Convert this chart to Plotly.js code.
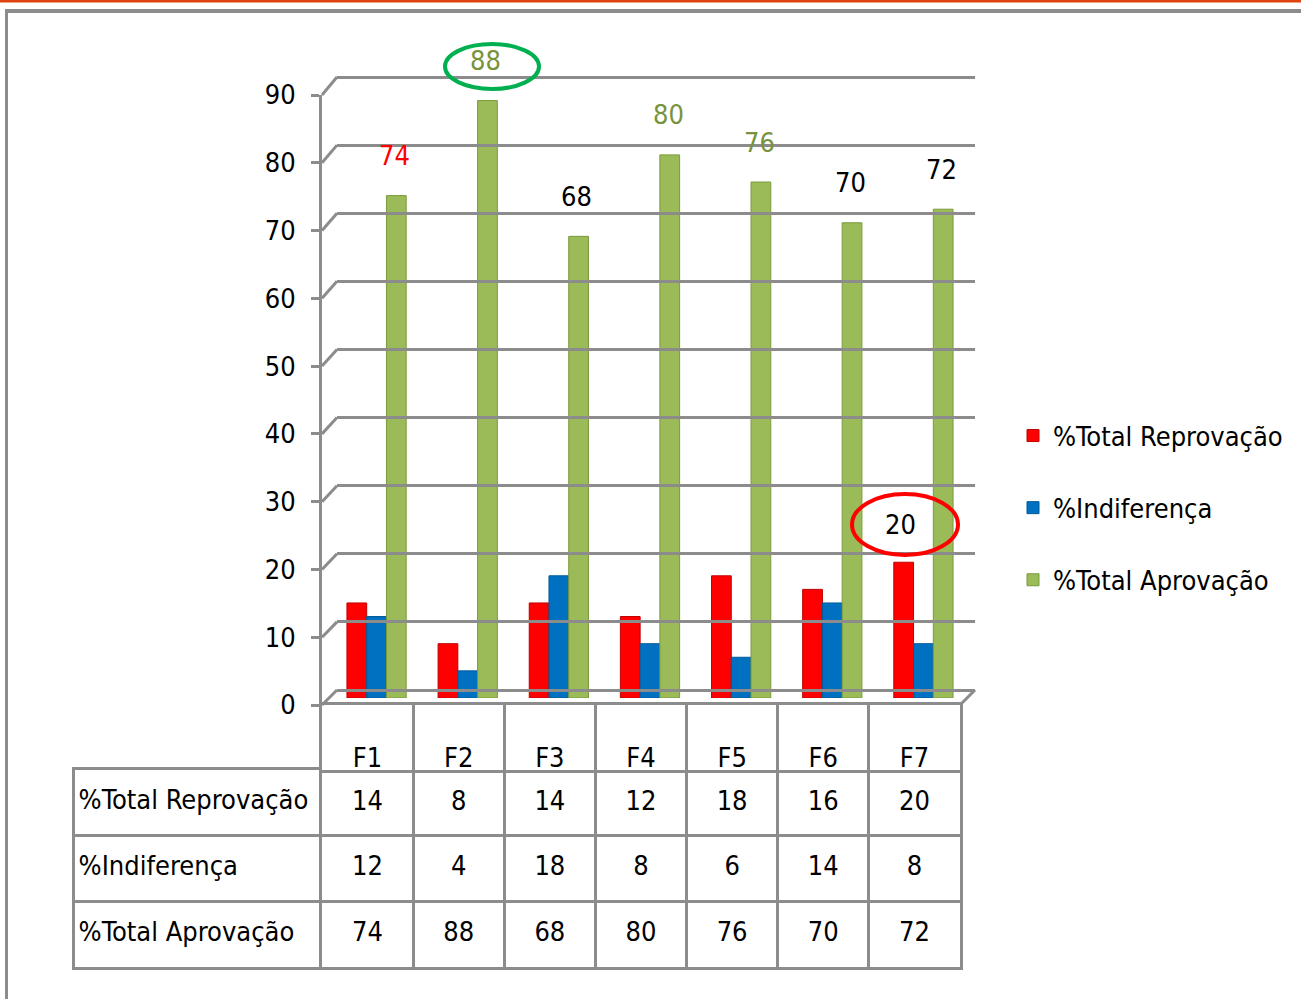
<!DOCTYPE html>
<html>
<head>
<meta charset="utf-8">
<script src="https://cdn.plot.ly/plotly-3.0.1.min.js"></script>
<style>html,body{margin:0;padding:0;background:#fff;overflow:hidden;}#chart{width:1301px;height:999px;}</style>
</head>
<body>
<div id="chart"></div>
<script>
// ---- data ----
const categories = ['F1', 'F2', 'F3', 'F4', 'F5', 'F6', 'F7'];
const seriesNames = ['%Total Reprovação', '%Indiferença', '%Total Aprovação'];
const reprovacao = [14, 8, 14, 12, 18, 16, 20];
const indiferenca = [12, 4, 18, 8, 6, 14, 8];
const aprovacao = [74, 88, 68, 80, 76, 70, 72];
const yTicks = [0, 10, 20, 30, 40, 50, 60, 70, 80, 90];

// ---- style ----
const W = 1301, H = 999;
const px = x => x / W;
const py = y => 1 - y / H;
const FONT = 'DejaVu Sans Condensed, Liberation Sans Narrow, sans-serif';
const FS = 27;
const colors = ['#FF0000', '#0070C0', '#9BBB59'];
const lineColors = ['#C00000', '#005A9A', '#7A9A3A'];
const gray = '#8C8C8C';
const aprLabelColors = ['#FF0000', '#77933C', '#000000', '#77933C', '#77933C', '#000000', '#000000'];

const seriesVals = [reprovacao, indiferenca, aprovacao];
const traces = seriesVals.map((vals, i) => ({
  type: 'bar', x: categories, y: vals, name: seriesNames[i],
  xaxis: 'x', yaxis: 'y', legendgroup: 'g' + i,
  marker: {color: colors[i], line: {color: lineColors[i], width: 1}},
  hoverinfo: 'x+y+name'
}));

// helper traces so that the layout-only axes get drawn
traces.push({type: 'scatter', mode: 'none', x: [0.5], y: [45], xaxis: 'x2', yaxis: 'y2', showlegend: false, hoverinfo: 'skip'});
traces.push({type: 'scatter', mode: 'none', x: [0.5], y: [45], xaxis: 'x3', yaxis: 'y3', showlegend: false, hoverinfo: 'skip'});
traces.push({type: 'scatter', mode: 'none', x: categories, y: categories.map(() => 0.5),
  xaxis: 'x4', yaxis: 'y4', showlegend: false, hoverinfo: 'skip'});
traces.push({type: 'scatter', mode: 'none', x: seriesNames.map(() => 0.5), y: seriesNames,
  xaxis: 'x5', yaxis: 'y5', showlegend: false, hoverinfo: 'skip'});

// data table values
const tx = [], ty = [], tt = [];
seriesVals.forEach((vals, i) => vals.forEach((v, j) => { tx.push(categories[j]); ty.push(seriesNames[i]); tt.push(String(v)); }));
traces.push({type: 'scatter', mode: 'text', x: tx, y: ty, text: tt, textposition: 'middle center',
  textfont: {family: FONT, size: FS, color: '#000'}, xaxis: 'x6', yaxis: 'y6', showlegend: false, hoverinfo: 'skip'});

const annotations = [];
categories.forEach((c, j) => {
  annotations.push({x: c, xref: 'x', y: aprovacao[j], yref: 'y', text: String(aprovacao[j]),
    showarrow: false, xshift: 18, yshift: 40, font: {family: FONT, size: FS, color: aprLabelColors[j]}});
});
annotations.push({x: 'F7', xref: 'x', y: reprovacao[6], yref: 'y', text: String(reprovacao[6]),
  showarrow: false, xshift: -23, yshift: 38, font: {family: FONT, size: FS, color: '#000'}});

const shapes = [
  {type: 'line', xref: 'paper', yref: 'paper', x0: 0, x1: 1, y0: py(1), y1: py(1), line: {color: '#E0440E', width: 3}},
  {type: 'line', xref: 'paper', yref: 'paper', x0: px(5), x1: 1, y0: py(11), y1: py(11), line: {color: gray, width: 4}},
  {type: 'line', xref: 'paper', yref: 'paper', x0: px(6.5), x1: px(6.5), y0: py(9), y1: 0, line: {color: gray, width: 3}},
  // floor right edge
  {type: 'line', xref: 'paper', yref: 'paper', x0: px(975), x1: px(960), y0: py(690), y1: py(705), line: {color: gray, width: 3}},
  // ellipses
  {type: 'circle', xref: 'paper', yref: 'paper', x0: px(445), x1: px(539), y0: py(44), y1: py(89), line: {color: '#00B050', width: 4}},
  {type: 'circle', xref: 'paper', yref: 'paper', x0: px(852), x1: px(958), y0: py(494), y1: py(555), line: {color: '#FF0000', width: 4}}
];
// wall diagonals from front ticks to back gridlines
yTicks.forEach(v => {
  const yf = 705 - v * (610 / 90), yb = 690 - v * (613 / 90);
  shapes.push({type: 'line', xref: 'paper', yref: 'paper', x0: px(322), x1: px(337), y0: py(yf), y1: py(yb),
    line: {color: gray, width: 3}});
});

const ln = {showline: true, linecolor: gray, linewidth: 3, zeroline: false};
const layout = {
  width: W, height: H,
  margin: {l: 0, r: 0, t: 0, b: 0, autoexpand: false},
  paper_bgcolor: '#fff', plot_bgcolor: 'rgba(0,0,0,0)',
  font: {family: FONT, size: FS, color: '#000'},
  barmode: 'group', bargap: 0.35, bargroupgap: 0,
  showlegend: true,
  legend: {x: px(1013), y: py(508), xanchor: 'left', yanchor: 'middle', traceorder: 'grouped',
    tracegroupgap: 34, font: {family: FONT, size: FS, color: '#000'}, bgcolor: 'rgba(0,0,0,0)'},
  // bars
  xaxis: {domain: [px(331), px(969)], anchor: 'y', visible: false, type: 'category', range: [-0.5, 6.5]},
  yaxis: {domain: [py(698), py(87)], anchor: 'x', visible: false, range: [0, 90]},
  // back-wall gridlines
  xaxis2: {domain: [px(337), px(975)], anchor: 'y2', visible: false, range: [0, 1]},
  yaxis2: {domain: [py(690), py(76)], anchor: 'x2', range: [0, 90.15], tickvals: yTicks, showgrid: true,
    gridcolor: gray, gridwidth: 3, zeroline: true, zerolinecolor: gray, zerolinewidth: 3, showticklabels: false, ticks: ''},
  // front axis with labels
  xaxis3: {domain: [px(322), px(960)], anchor: 'y3', visible: false, range: [0, 1]},
  yaxis3: {domain: [py(705), py(95)], anchor: 'x3', range: [0, 90], tickvals: yTicks, showgrid: false, zeroline: false,
    showline: true, linecolor: gray, linewidth: 3, ticks: 'outside', ticklen: 8, tickwidth: 3, tickcolor: gray,
    ticklabelstandoff: 10, tickfont: {family: FONT, size: FS, color: '#000'}},
  // table header row
  xaxis4: Object.assign({domain: [px(322), px(960)], anchor: 'y4', type: 'category', categoryorder: 'array', categoryarray: categories,
    range: [-0.5, 6.5], mirror: true, showgrid: true, gridcolor: gray, gridwidth: 3, tickson: 'boundaries', ticks: '',
    ticklabelposition: 'inside', tickfont: {family: FONT, size: FS, color: '#000'}}, ln),
  yaxis4: Object.assign({domain: [py(770), py(705)], anchor: 'x4', range: [0, 1], mirror: true, showgrid: false,
    showticklabels: false, ticks: ''}, ln),
  // table: row-label column
  xaxis5: Object.assign({domain: [px(75), px(322)], anchor: 'y5', range: [0, 1], mirror: true, showgrid: false,
    showticklabels: false, ticks: ''}, ln),
  yaxis5: Object.assign({domain: [py(967), py(770)], anchor: 'x5', type: 'category', categoryorder: 'array',
    categoryarray: seriesNames, range: [2.5, -0.5], mirror: false, showgrid: true, gridcolor: gray, gridwidth: 3, tickson: 'boundaries',
    ticks: '', ticklabelposition: 'inside', ticklabelstandoff: 6, ticklabelshift: 3,
    tickfont: {family: FONT, size: FS, color: '#000'}}, ln),
  // table: value cells
  xaxis6: Object.assign({domain: [px(322), px(960)], anchor: 'y6', type: 'category', categoryorder: 'array', categoryarray: categories,
    range: [-0.5, 6.5], mirror: false, showgrid: true, gridcolor: gray, gridwidth: 3, tickson: 'boundaries', ticks: '',
    showticklabels: false}, ln),
  yaxis6: Object.assign({domain: [py(967), py(770)], anchor: 'x6', type: 'category', categoryorder: 'array',
    categoryarray: seriesNames, range: [2.5, -0.5], mirror: true, showgrid: true, gridcolor: gray, gridwidth: 3, tickson: 'boundaries',
    ticks: '', showticklabels: false}, ln),
  shapes: shapes,
  annotations: annotations
};

Plotly.newPlot('chart', traces, layout, {displayModeBar: false, staticPlot: true});
</script>
</body>
</html>
